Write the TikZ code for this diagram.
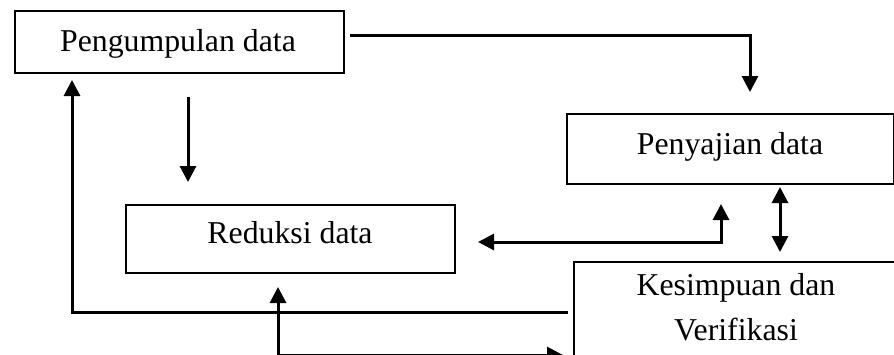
\documentclass[tikz,border=0pt]{standalone}
\usepackage{fontspec}
\setmainfont{Liberation Serif}
\usetikzlibrary{arrows.meta}
\begin{document}
\begin{tikzpicture}[x=1pt,y=-1pt,
  box/.style={draw, line width=2pt, anchor=north west, inner sep=0pt},
  lbl/.style={font=\fontsize{31.8}{45}\selectfont, anchor=base, inner sep=0pt},
  conn/.style={line width=3pt},
  arr/.style={conn, -{Triangle[width=16pt,length=16pt]}},
  darr/.style={conn, {Triangle[width=16pt,length=16pt]}-{Triangle[width=16pt,length=16pt]}}]
\useasboundingbox (0,0) rectangle (894,354);
\fill[white] (0,0) rectangle (894,354);
% boxes
\node[box, minimum width=329pt, minimum height=62pt] (pg) at (14,10) {};
\node[lbl] (pgt) at (178,51) {Pengumpulan data};
\node[box, minimum width=327pt, minimum height=70pt] (pj) at (566,113) {};
\node[lbl] (pjt) at (730,154) {Penyajian data};
\node[box, minimum width=329pt, minimum height=68pt] (rd) at (125,204) {};
\node[lbl] (rdt) at (290,243) {Reduksi data};
\node[box, minimum width=330pt, minimum height=140pt] (ks) at (573,261) {};
\node[lbl] (kst1) at (736,295) {Kesimpuan dan};
\node[lbl] (kst2) at (736,340) {Verifikasi};
% connector end points
\coordinate (c1) at (350,35);
\coordinate (c2) at (750,92);
\coordinate (c3) at (188,97);
\coordinate (c4) at (188,182);
\coordinate (c5) at (568,312);
\coordinate (c6) at (72,80);
\coordinate (c7) at (478,242);
\coordinate (c8) at (721,204);
\coordinate (c9) at (780,187);
\coordinate (c10) at (780,252);
\coordinate (c11) at (278,287);
\coordinate (c12) at (563,355);
% connectors
\draw[arr] (c1) -| (c2);
\draw[arr] (c3) -- (c4);
\draw[arr] (c5) -| (c6);
\draw[darr] (c7) -| (c8);
\draw[darr] (c9) -- (c10);
\draw[darr] (c11) |- (c12);
\end{tikzpicture}
\end{document}
